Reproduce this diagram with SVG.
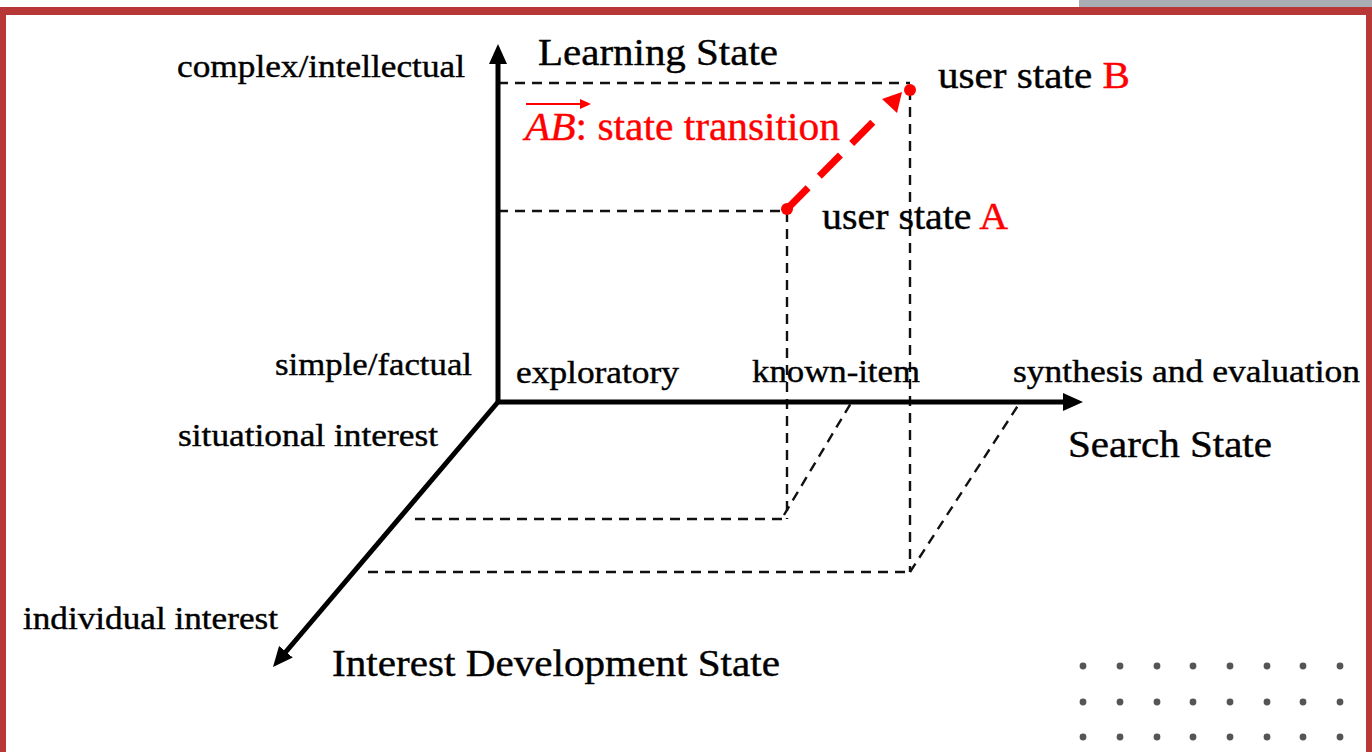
<svg xmlns="http://www.w3.org/2000/svg" width="1372" height="752" viewBox="0 0 1372 752">
<style>
  .t { font-family: "Liberation Serif", "Times New Roman", serif; fill: #000; stroke: #000; stroke-width: 0.4; }
  .s { font-size: 32px; }
  .l { font-size: 38px; }
  .red { fill: #ff0000; stroke: #ff0000; }
  .axis { stroke: #000; stroke-width: 5; fill: none; }
  .dash { stroke: #111; stroke-width: 2.4; stroke-dasharray: 10 7; fill: none; }
  .rdash { stroke: #ff0000; stroke-width: 7; stroke-dasharray: 30 16; fill: none; }
  .dot { fill: #555; }
</style>
<defs>
  <marker id="ah" viewBox="0 0 20 18" refX="3" refY="9" markerWidth="20" markerHeight="18" markerUnits="userSpaceOnUse" orient="auto">
    <path d="M0,0 L20,9 L0,18 z" fill="#000"/>
  </marker>
</defs>
<rect width="1372" height="752" fill="#fff"/>
<g id="frame">
  <rect x="1079" y="0" width="293" height="7" fill="#a9aeb5"/>
  <rect x="0" y="7" width="1372" height="8" fill="#b83737"/>
  <rect x="0" y="7" width="6" height="745" fill="#b83737"/>
  <rect x="1366" y="7" width="6" height="745" fill="#b83737"/>
</g>
<g id="connectors">
  <line class="dash" x1="498" y1="83" x2="910" y2="83"/>
  <line class="dash" x1="498" y1="211" x2="787" y2="211"/>
  <line class="dash" x1="787" y1="212" x2="787" y2="519"/>
  <line class="dash" x1="910" y1="90" x2="910" y2="572"/>
  <line class="dash" x1="415" y1="519" x2="787" y2="519"/>
  <line class="dash" x1="368" y1="572" x2="910" y2="572"/>
  <line class="dash" x1="784" y1="515" x2="851" y2="403"/>
  <line class="dash" x1="910" y1="572" x2="1019" y2="404"/>
  <line class="axis" x1="498" y1="404" x2="498" y2="61" marker-end="url(#ah)"/>
  <line class="axis" x1="496" y1="402" x2="1066" y2="402" marker-end="url(#ah)"/>
  <line class="axis" x1="498" y1="402" x2="284" y2="654" marker-end="url(#ah)"/>
  <line class="rdash" x1="787" y1="209" x2="876" y2="119"/>
  <polygon points="902,92 882,99 897,113" fill="#ff0000"/>
</g>
<g id="userA">
  <circle cx="787" cy="209" r="6" fill="#ff0000"/>
  <text class="t l" x="822" y="229" textLength="186" lengthAdjust="spacingAndGlyphs">user state <tspan class="red">A</tspan></text>
</g>
<g id="userB">
  <circle cx="910" cy="90" r="6" fill="#ff0000"/>
  <text class="t l" x="938" y="88" textLength="192" lengthAdjust="spacingAndGlyphs">user state <tspan class="red">B</tspan></text>
</g>
<g id="transition-label">
  <line x1="526" y1="104" x2="583" y2="104" stroke="#ff0000" stroke-width="2"/>
  <polygon points="591,104 580,99 580,109" fill="#ff0000"/>
  <text class="t red" font-size="40" x="525" y="140" textLength="315" lengthAdjust="spacingAndGlyphs"><tspan font-style="italic">AB</tspan>: state transition</text>
</g>
<g id="learning-axis">
  <text class="t l" x="538" y="65" textLength="240" lengthAdjust="spacingAndGlyphs">Learning State</text>
  <text class="t s" x="177" y="77" textLength="288" lengthAdjust="spacingAndGlyphs">complex/intellectual</text>
  <text class="t s" x="275" y="375" textLength="197" lengthAdjust="spacingAndGlyphs">simple/factual</text>
</g>
<g id="search-axis">
  <text class="t s" x="516" y="383" textLength="163" lengthAdjust="spacingAndGlyphs">exploratory</text>
  <text class="t s" x="752" y="382" textLength="168" lengthAdjust="spacingAndGlyphs">known-item</text>
  <text class="t s" x="1013" y="382" textLength="347" lengthAdjust="spacingAndGlyphs">synthesis and evaluation</text>
  <text class="t l" x="1068" y="457" textLength="204" lengthAdjust="spacingAndGlyphs">Search State</text>
</g>
<g id="interest-axis">
  <text class="t s" x="178" y="446" textLength="260" lengthAdjust="spacingAndGlyphs">situational interest</text>
  <text class="t s" x="23" y="629" textLength="255" lengthAdjust="spacingAndGlyphs">individual interest</text>
  <text class="t l" x="332" y="676" textLength="448" lengthAdjust="spacingAndGlyphs">Interest Development State</text>
</g>
<g id="dots">
  <circle class="dot" cx="1083" cy="666" r="3.4"/><circle class="dot" cx="1120" cy="666" r="3.4"/><circle class="dot" cx="1157" cy="666" r="3.4"/><circle class="dot" cx="1193" cy="666" r="3.4"/><circle class="dot" cx="1230" cy="666" r="3.4"/><circle class="dot" cx="1267" cy="666" r="3.4"/><circle class="dot" cx="1303" cy="666" r="3.4"/><circle class="dot" cx="1340" cy="666" r="3.4"/>
  <circle class="dot" cx="1083" cy="702" r="3.4"/><circle class="dot" cx="1120" cy="702" r="3.4"/><circle class="dot" cx="1157" cy="702" r="3.4"/><circle class="dot" cx="1193" cy="702" r="3.4"/><circle class="dot" cx="1230" cy="702" r="3.4"/><circle class="dot" cx="1267" cy="702" r="3.4"/><circle class="dot" cx="1303" cy="702" r="3.4"/><circle class="dot" cx="1340" cy="702" r="3.4"/>
  <circle class="dot" cx="1083" cy="737" r="3.4"/><circle class="dot" cx="1120" cy="737" r="3.4"/><circle class="dot" cx="1157" cy="737" r="3.4"/><circle class="dot" cx="1193" cy="737" r="3.4"/><circle class="dot" cx="1230" cy="737" r="3.4"/><circle class="dot" cx="1267" cy="737" r="3.4"/><circle class="dot" cx="1303" cy="737" r="3.4"/><circle class="dot" cx="1340" cy="737" r="3.4"/>
</g>
</svg>
